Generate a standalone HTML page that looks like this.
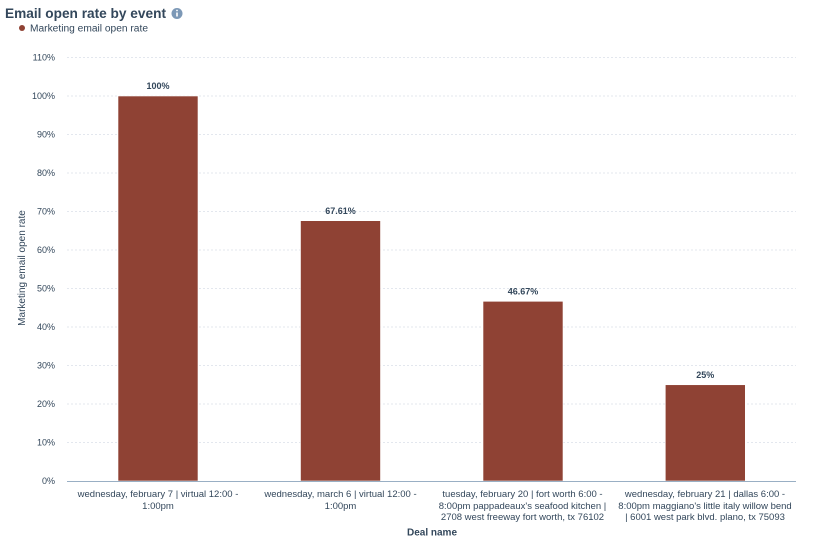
<!DOCTYPE html>
<html><head><meta charset="utf-8"><style>
html,body{margin:0;padding:0;background:#fff;width:815px;height:544px;overflow:hidden}
svg{display:block;font-family:"Liberation Sans",sans-serif}
</style></head><body>
<svg width="815" height="544" viewBox="0 0 815 544" xmlns="http://www.w3.org/2000/svg">
<text x="5" y="18" font-size="14" font-weight="bold" fill="#33475b" textLength="161" lengthAdjust="spacingAndGlyphs">Email open rate by event</text>
<circle cx="177" cy="13.5" r="5.5" fill="#7c98b6"/>
<rect x="176.2" y="12.5" width="1.6" height="4" fill="#fff"/>
<circle cx="177" cy="10.5" r="0.9" fill="#fff"/>
<circle cx="22" cy="28" r="3" fill="#8f4234"/>
<text x="30" y="31.5" font-size="10" fill="#33475b" textLength="118" lengthAdjust="spacingAndGlyphs">Marketing email open rate</text>
<g stroke="#e3e7ee" stroke-width="1" stroke-dasharray="2,2">
<line x1="67" x2="796" y1="57.5" y2="57.5"/>
<line x1="67" x2="796" y1="96" y2="96"/>
<line x1="67" x2="796" y1="134.5" y2="134.5"/>
<line x1="67" x2="796" y1="173" y2="173"/>
<line x1="67" x2="796" y1="211.5" y2="211.5"/>
<line x1="67" x2="796" y1="250" y2="250"/>
<line x1="67" x2="796" y1="288.5" y2="288.5"/>
<line x1="67" x2="796" y1="327" y2="327"/>
<line x1="67" x2="796" y1="365.5" y2="365.5"/>
<line x1="67" x2="796" y1="404" y2="404"/>
<line x1="67" x2="796" y1="442.5" y2="442.5"/>
</g>
<g font-size="9" fill="#33475b" text-anchor="end">
<text x="55" y="60.5">110%</text>
<text x="55" y="99">100%</text>
<text x="55" y="137.5">90%</text>
<text x="55" y="176">80%</text>
<text x="55" y="214.5">70%</text>
<text x="55" y="253">60%</text>
<text x="55" y="291.5">50%</text>
<text x="55" y="330">40%</text>
<text x="55" y="368.5">30%</text>
<text x="55" y="407">20%</text>
<text x="55" y="445.5">10%</text>
<text x="55" y="484">0%</text>
</g>
<text transform="translate(25,268) rotate(-90)" font-size="10" fill="#33475b" text-anchor="middle">Marketing email open rate</text>
<g fill="#8f4234" stroke="#fff" stroke-width="0.6">
<rect x="118" y="96" width="80" height="385"/>
<rect x="300.5" y="220.7" width="80" height="260.3"/>
<rect x="483" y="301.3" width="80" height="179.7"/>
<rect x="665.3" y="384.75" width="80" height="96.25"/>
</g>
<line x1="67" x2="796" y1="481.5" y2="481.5" stroke="#99afc4" stroke-width="1"/>
<g font-size="9" font-weight="bold" fill="#33475b" text-anchor="middle">
<text x="158" y="89">100%</text>
<text x="340.5" y="214">67.61%</text>
<text x="523" y="294.5">46.67%</text>
<text x="705.3" y="378">25%</text>
</g>
<g font-size="9.5" fill="#33475b" text-anchor="middle">
<text x="158" y="497">wednesday, february 7 | virtual 12:00 -</text>
<text x="158" y="509">1:00pm</text>
<text x="340.5" y="497">wednesday, march 6 | virtual 12:00 -</text>
<text x="340.5" y="509">1:00pm</text>
<text x="522.5" y="497">tuesday, february 20 | fort worth 6:00 -</text>
<text x="522.5" y="509">8:00pm pappadeaux's seafood kitchen |</text>
<text x="522.5" y="520">2708 west freeway fort worth, tx 76102</text>
<text x="705" y="497">wednesday, february 21 | dallas 6:00 -</text>
<text x="705" y="509">8:00pm maggiano's little italy willow bend</text>
<text x="705" y="520">| 6001 west park blvd. plano, tx 75093</text>
</g>
<text x="432" y="535.5" font-size="10" font-weight="bold" fill="#33475b" text-anchor="middle">Deal name</text>
</svg>
</body></html>
